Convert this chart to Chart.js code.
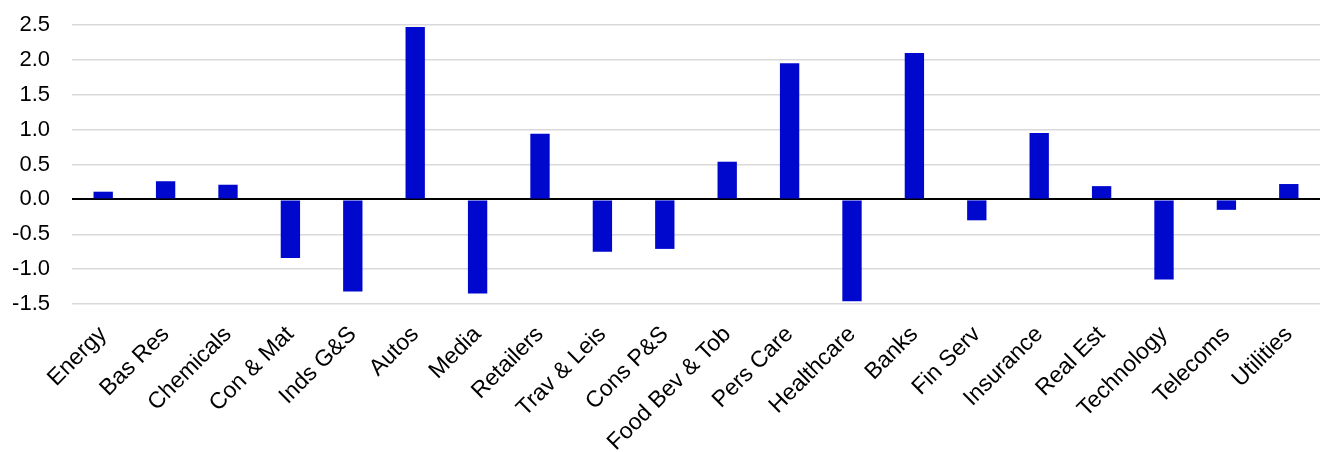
<!DOCTYPE html>
<html>
<head>
<meta charset="utf-8">
<script src="https://cdn.jsdelivr.net/npm/chart.js@4"></script>
<style>
  html, body { margin: 0; padding: 0; background: #fff; }
  #wrap { width: 1327px; height: 452px; }
</style>
</head>
<body>
<div id="wrap"><canvas id="sectorChart"></canvas></div>
<script>
const sectors = ["Energy", "Bas Res", "Chemicals", "Con & Mat", "Inds G&S", "Autos", "Media", "Retailers",
  "Trav & Leis", "Cons P&S", "Food Bev & Tob", "Pers Care", "Healthcare", "Banks", "Fin Serv",
  "Insurance", "Real Est", "Technology", "Telecoms", "Utilities"];
const values = [0.11, 0.26, 0.21, -0.84, -1.32, 2.47, -1.35, 0.94, -0.75, -0.71, 0.54, 1.95, -1.46,
  2.10, -0.30, 0.95, 0.19, -1.15, -0.15, 0.22];
const yTicks = [-1.5, -1.0, -0.5, 0.0, 0.5, 1.0, 1.5, 2.0, 2.5];

const family = "Liberation Sans, Arial, sans-serif";

new Chart(document.getElementById("sectorChart"), {
  type: "bar",
  data: {
    labels: sectors,
    datasets: [
      { data: values, backgroundColor: "#0008CE", barPercentage: 0.31, categoryPercentage: 1 }
    ]
  },
  options: {
    responsive: true,
    maintainAspectRatio: false,
    animation: false,
    layout: { padding: { top: 25, right: 7, left: 0, bottom: 0 } },
    plugins: { legend: { display: false }, tooltip: { enabled: false } },
    scales: {
      x: {
        grid: { display: false, drawTicks: false },
        border: { display: false },
        ticks: {
          color: "#000", font: { family, size: 23 },
          maxRotation: 45, minRotation: 45, padding: 17, autoSkip: false
        },
        afterFit: (scale) => { scale.height = 148; }
      },
      y: {
        min: -1.5,
        max: 2.5,
        afterBuildTicks: (scale) => { scale.ticks = yTicks.map((v) => ({ value: v })); },
        grid: {
          drawTicks: false,
          color: (ctx) => (ctx.tick && ctx.tick.value === 0 ? "#000" : "#d9d9d9"),
          lineWidth: (ctx) => (ctx.tick && ctx.tick.value === 0 ? 2 : 1.5)
        },
        border: { display: false },
        ticks: { color: "#000", font: { family, size: 22 }, padding: 22, callback: (v) => Number(v).toFixed(1) },
        afterFit: (scale) => {
          // tick padding would otherwise push the plot area down
          scale.width = 72;
          scale.paddingTop = 0;
          scale.paddingBottom = 0;
        }
      }
    }
  }
});
</script>
</body>
</html>
